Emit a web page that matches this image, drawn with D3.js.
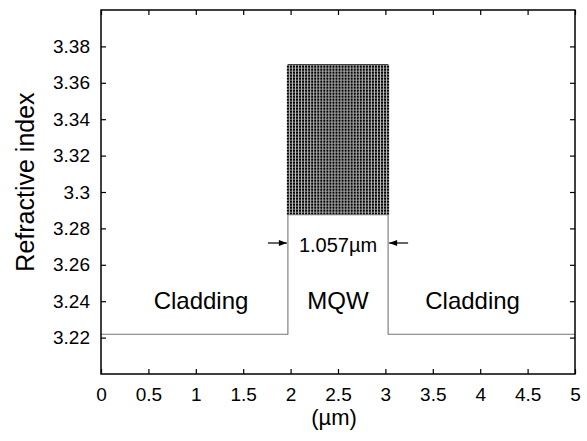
<!DOCTYPE html>
<html>
<head>
<meta charset="utf-8">
<script src="https://cdn.jsdelivr.net/npm/d3@7"></script>
<style>
  body { margin: 0; background: #fff; }
  svg { display: block; font-family: "Liberation Sans", Arial, Helvetica, sans-serif; }
</style>
</head>
<body>
<svg id="chart" width="587" height="441"></svg>
<script>
// Refractive index profile across the waveguide (position in µm)
const xTicks = [0, 0.5, 1, 1.5, 2, 2.5, 3, 3.5, 4, 4.5, 5];
const xTickLabels = ["0", "0.5", "1", "1.5", "2", "2.5", "3", "3.5", "4", "4.5", "5"];
const yTicks = [3.22, 3.24, 3.26, 3.28, 3.3, 3.32, 3.34, 3.36, 3.38];
const yTickLabels = ["3.22", "3.24", "3.26", "3.28", "3.3", "3.32", "3.34", "3.36", "3.38"];

// Step profile: cladding | MQW region | cladding
const profileX = [0, 1.9715, 1.9715, 3.0285, 3.0285, 5];
const profileN = [3.2218, 3.2218, 3.2875, 3.2875, 3.2218, 3.2218];

// Multiple-quantum-well stack inside the core
const mqwStart = 1.9715;
const mqwEnd = 3.0285;
const mqwBarrierIndex = 3.2875;
const mqwWellIndex = 3.370;
const mqwLayers = 33;
const coreWidthLabel = "1.057\u00b5m";

const regionLabels = ["Cladding", "MQW", "Cladding"];
const regionLabelX = [1.055, 2.5, 3.92];
const regionLabelY = 3.2357;

const margin = { left: 101, right: 12, top: 10, bottom: 67 };
const W = 587, H = 441;
const svg = d3.select("#chart");

const x = d3.scaleLinear().domain([0, 5]).range([margin.left, W - margin.right]);
const y = d3.scaleLinear().domain([3.2, 3.4]).range([H - margin.bottom, margin.top]);

// MQW layers: light backdrop with the well interfaces drawn over it
svg.append("rect")
  .attr("x", x(mqwStart)).attr("y", y(mqwWellIndex))
  .attr("width", x(mqwEnd) - x(mqwStart))
  .attr("height", y(mqwBarrierIndex) - y(mqwWellIndex))
  .attr("fill", "#bbb");
const layerW = (mqwEnd - mqwStart) / mqwLayers;
const mqwEdges = d3.range(mqwLayers + 1).map(i => mqwStart + i * layerW);
svg.append("g")
  .selectAll("line")
  .data(mqwEdges)
  .join("line")
  .attr("x1", d => x(d)).attr("x2", d => x(d))
  .attr("y1", y(mqwBarrierIndex)).attr("y2", y(mqwWellIndex))
  .attr("stroke", "#000")
  .attr("stroke-width", 2)
  .attr("stroke-dasharray", "2.2,0.8");
svg.append("line")
  .attr("x1", x(mqwStart)).attr("x2", x(mqwEnd))
  .attr("y1", y(mqwWellIndex)).attr("y2", y(mqwWellIndex))
  .attr("stroke", "#333").attr("stroke-width", 1);

// Profile line
const line = d3.line().x((d, i) => x(profileX[i])).y(d => y(d));
svg.append("path")
  .datum(profileN)
  .attr("d", line)
  .attr("fill", "none")
  .attr("stroke", "#777")
  .attr("stroke-width", 1.1);

// Frame
svg.append("rect")
  .attr("x", x(0)).attr("y", y(3.4))
  .attr("width", x(5) - x(0)).attr("height", y(3.2) - y(3.4))
  .attr("fill", "none").attr("stroke", "#000").attr("stroke-width", 1.5);

// Axes with inward ticks
const tl = 5;
const axisBottomG = svg.append("g").attr("transform", `translate(0,${y(3.2)})`)
  .call(d3.axisBottom(x).tickValues(xTicks).tickFormat((d, i) => xTickLabels[i]).tickSizeInner(-tl).tickSizeOuter(0).tickPadding(14));
const axisTopG = svg.append("g").attr("transform", `translate(0,${y(3.4)})`)
  .call(d3.axisTop(x).tickValues(xTicks).tickFormat("").tickSizeInner(-tl).tickSizeOuter(0));
const axisLeftG = svg.append("g").attr("transform", `translate(${x(0)},0)`)
  .call(d3.axisLeft(y).tickValues(yTicks).tickFormat((d, i) => yTickLabels[i]).tickSizeInner(-tl).tickSizeOuter(0).tickPadding(11));
const axisRightG = svg.append("g").attr("transform", `translate(${x(5)},0)`)
  .call(d3.axisRight(y).tickValues(yTicks).tickFormat("").tickSizeInner(-tl).tickSizeOuter(0));

[axisBottomG, axisTopG, axisLeftG, axisRightG].forEach(g => {
  g.select(".domain").remove();
  g.selectAll(".tick line").attr("stroke", "#000").attr("stroke-width", 1.2);
  g.selectAll("text").attr("fill", "#000").style("font-size", "19px")
    .style("font-family", '"Liberation Sans", Arial, sans-serif');
});

// Axis titles
svg.append("text")
  .attr("transform", `translate(34,182) rotate(-90)`)
  .attr("text-anchor", "middle")
  .style("font-size", "25px")
  .text("Refractive index");
svg.append("text")
  .attr("x", 334).attr("y", 425)
  .attr("text-anchor", "middle")
  .style("font-size", "22px")
  .text("(\u00b5m)");

// Region labels
svg.selectAll("text.region")
  .data(regionLabels)
  .join("text")
  .attr("class", "region")
  .attr("x", (d, i) => x(regionLabelX[i]))
  .attr("y", y(regionLabelY))
  .attr("text-anchor", "middle")
  .style("font-size", "24px")
  .text(d => d);

// Core width annotation with arrows
const arrowY = 243;
svg.append("text")
  .attr("x", x(2.5)).attr("y", 252)
  .attr("text-anchor", "middle")
  .style("font-size", "20px")
  .text(coreWidthLabel);

function arrow(xFrom, xTo) {
  svg.append("line")
    .attr("x1", xFrom).attr("x2", xTo)
    .attr("y1", arrowY).attr("y2", arrowY)
    .attr("stroke", "#000").attr("stroke-width", 1.2);
  const dir = Math.sign(xTo - xFrom);
  svg.append("path")
    .attr("d", `M${xTo},${arrowY} L${xTo - dir * 8},${arrowY - 3} L${xTo - dir * 8},${arrowY + 3} Z`)
    .attr("fill", "#000");
}
arrow(x(mqwStart) - 20, x(mqwStart) - 1);
arrow(x(mqwEnd) + 20, x(mqwEnd) + 1);
</script>
</body>
</html>
